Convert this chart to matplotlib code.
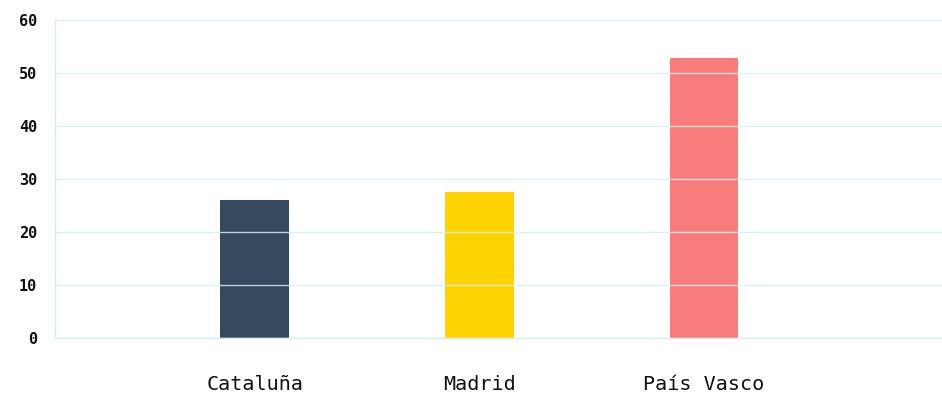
import matplotlib
matplotlib.use("Agg")
import matplotlib.pyplot as plt

categories = ["Cataluña", "Madrid", "País Vasco"]
values = [26.0, 27.5, 52.8]
colors = ["#34495e", "#ffd300", "#f87c7c"]
yticks = [0, 10, 20, 30, 40, 50, 60]

fig = plt.figure(figsize=(9.42, 3.96), dpi=100)
ax = fig.add_axes([55/942, 58/396, 887/942, 318/396])

x = list(range(len(categories)))
ax.bar(x, values, width=0.307, color=colors, zorder=1)

ax.set_xlim(-0.89, 3.06)
ax.set_ylim(0, 60)
ax.set_yticks(yticks)
ax.set_yticklabels([str(t) for t in yticks], fontfamily="DejaVu Sans Mono",
                   fontweight="bold", fontsize=11, color="#111111")
ax.set_xticks(x)
ax.set_xticklabels(categories, fontfamily="DejaVu Sans Mono", fontsize=14.5, color="#111111")
ax.tick_params(axis="y", length=0, pad=13)
ax.tick_params(axis="x", length=0, pad=27)

ax.grid(axis="y", color="#d4eef0", linewidth=1, alpha=0.85, zorder=3)
ax.set_axisbelow(False)
ax.spines["right"].set_visible(False)
ax.spines["top"].set_visible(False)
for s in ["left", "bottom"]:
    ax.spines[s].set_color("#d4eef0")
    ax.spines[s].set_linewidth(1)

fig.savefig("out.png", dpi=100)
